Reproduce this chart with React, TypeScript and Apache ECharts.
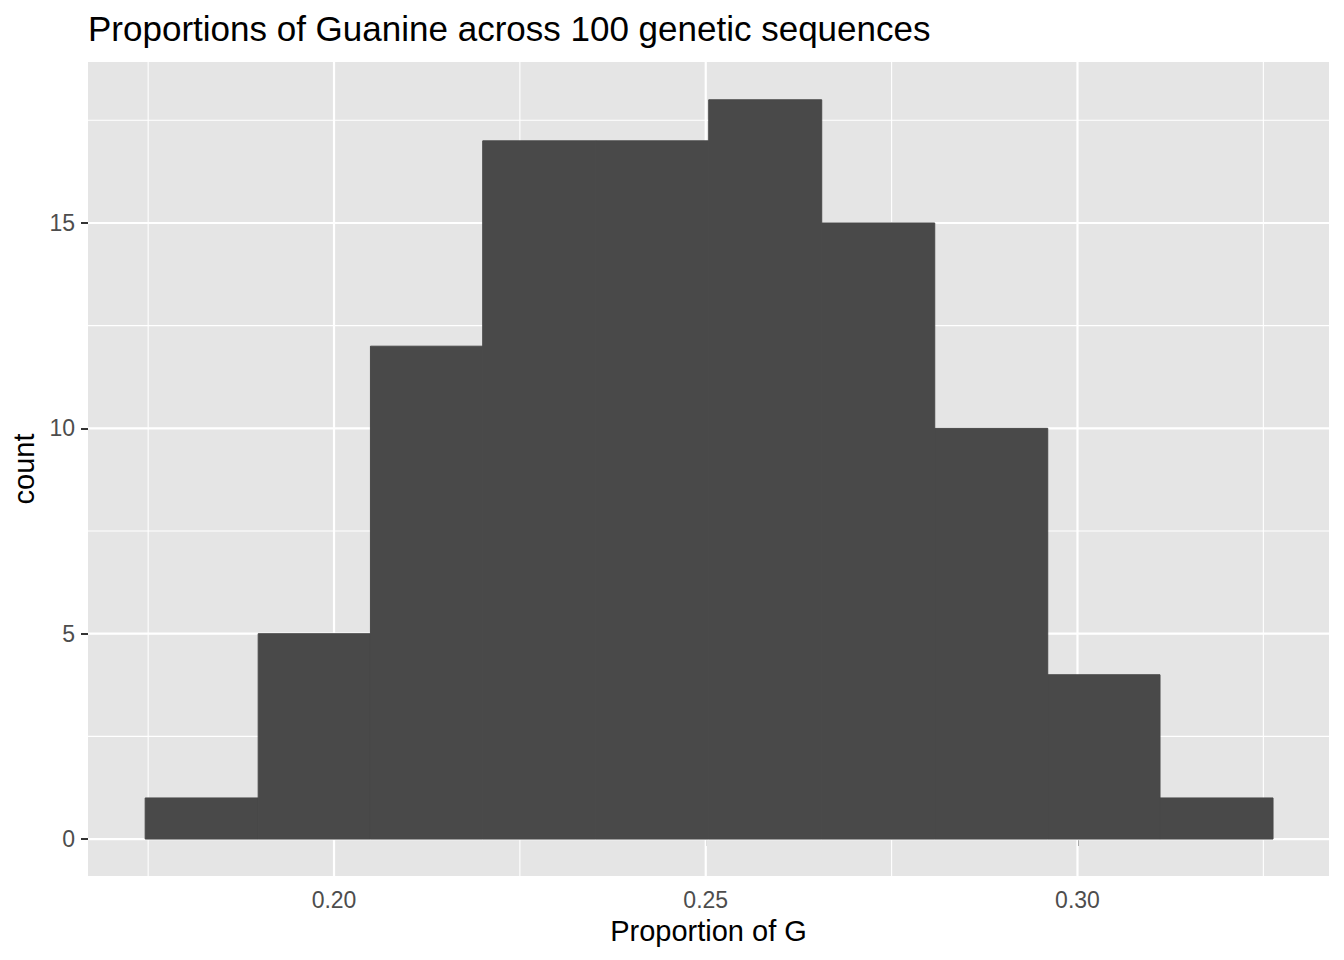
import React, { useEffect, useRef } from "react";
import * as echarts from "echarts";

const titleText = "Proportions of Guanine across 100 genetic sequences";
const xTitle = "Proportion of G";
const yTitle = "count";

// histogram bins (left edge, right edge) and counts
const binStarts = [0.1746, 0.1898, 0.2049, 0.2200, 0.2352, 0.2504, 0.2656, 0.2808, 0.2960, 0.3111];
const binEnds = [0.1898, 0.2049, 0.2200, 0.2352, 0.2504, 0.2656, 0.2808, 0.2960, 0.3111, 0.3263];
const counts = [1, 5, 12, 17, 17, 18, 15, 10, 4, 1];

const xTicks = [0.2, 0.25, 0.3];
const xMinor = [0.175, 0.225, 0.275, 0.325];
const yTicks = [0, 5, 10, 15];
const yMinor = [2.5, 7.5, 12.5, 17.5];

const X_MIN = 0.16691;
const X_MAX = 0.33383;
const Y_MIN = -0.9;
const Y_MAX = 18.92;

const FONT = "'Liberation Sans', Arial, Helvetica, sans-serif";

export default function App() {
  const ref = useRef<HTMLDivElement>(null);
  useEffect(() => {
    if (!ref.current) return;
    const chart = echarts.init(ref.current, null, { renderer: "svg" });

    const vLines = (vals: number[], width: number) => ({
      type: "custom",
      z: 1,
      silent: true,
      clip: false,
      data: vals.map((v) => [v, 0]),
      renderItem: (params: any, api: any) => {
        const cs = params.coordSys;
        const x = api.coord([api.value(0), 0])[0];
        return {
          type: "line",
          shape: { x1: x, y1: cs.y, x2: x, y2: cs.y + cs.height },
          style: { stroke: "#ffffff", lineWidth: width },
        };
      },
    });
    const hLines = (vals: number[], width: number) => ({
      type: "custom",
      z: 1,
      silent: true,
      clip: false,
      data: vals.map((v) => [0.25, v]),
      renderItem: (params: any, api: any) => {
        const cs = params.coordSys;
        const y = api.coord([0.25, api.value(1)])[1];
        return {
          type: "line",
          shape: { x1: cs.x, y1: y, x2: cs.x + cs.width, y2: y },
          style: { stroke: "#ffffff", lineWidth: width },
        };
      },
    });

    chart.setOption({
      animation: false,
      title: {
        text: titleText,
        left: 83,
        top: 6,
        textStyle: { fontFamily: FONT, fontSize: 35, fontWeight: "normal", color: "#000000" },
      },
      grid: {
        left: 88,
        right: 15,
        top: 62,
        bottom: 84,
        show: true,
        backgroundColor: "#E5E5E5",
        borderWidth: 0,
      },
      xAxis: {
        type: "value",
        min: X_MIN,
        max: X_MAX,
        name: xTitle,
        nameLocation: "middle",
        nameGap: 40,
        nameTextStyle: { fontFamily: FONT, fontSize: 29, color: "#000000" },
        axisLine: { show: false },
        axisTick: {
          show: true,
          customValues: xTicks,
          length: 7,
          lineStyle: { color: "#333333", width: 2 },
        },
        axisLabel: {
          customValues: xTicks,
          formatter: (v: number) => v.toFixed(2),
          margin: 12,
          fontFamily: FONT,
          fontSize: 23,
          color: "#4D4D4D",
        },
        splitLine: { show: false },
      },
      yAxis: {
        type: "value",
        min: Y_MIN,
        max: Y_MAX,
        name: yTitle,
        nameLocation: "middle",
        nameGap: 46,
        nameRotate: 90,
        nameTextStyle: { fontFamily: FONT, fontSize: 29, color: "#000000" },
        axisLine: { show: false },
        axisTick: {
          show: true,
          customValues: yTicks,
          length: 7,
          lineStyle: { color: "#333333", width: 2 },
        },
        axisLabel: {
          customValues: yTicks,
          margin: 13,
          fontFamily: FONT,
          fontSize: 23,
          color: "#4D4D4D",
        },
        splitLine: { show: false },
      },
      series: [
        vLines(xMinor, 1.1),
        hLines(yMinor, 1.1),
        vLines(xTicks, 2.2),
        hLines(yTicks, 2.2),
        {
          type: "custom",
          z: 5,
          data: binStarts.map((s, i) => [s, binEnds[i], counts[i]]),
          encode: { x: [0, 1], y: 2 },
          renderItem: (params: any, api: any) => {
            const p0 = api.coord([api.value(0), 0]);
            const p1 = api.coord([api.value(1), api.value(2)]);
            return {
              type: "rect",
              shape: { x: p0[0], y: p1[1], width: p1[0] - p0[0], height: p0[1] - p1[1] },
              style: { fill: "#494949", stroke: "#494949", lineWidth: 1 },
            };
          },
        },
      ],
    });
    return () => chart.dispose();
  }, []);
  return (
    <div
      ref={ref}
      style={{ position: "fixed", left: 0, top: 0, width: 1344, height: 960, background: "#ffffff" }}
    />
  );
}
